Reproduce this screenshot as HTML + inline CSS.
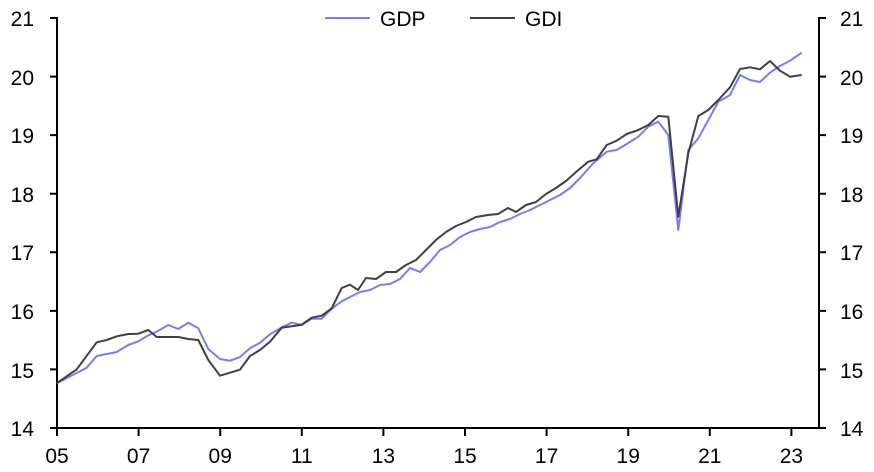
<!DOCTYPE html>
<html><head><meta charset="utf-8"><style>
body{margin:0;background:#fff}
svg{display:block;font-family:"Liberation Sans",sans-serif}
</style></head><body>
<svg width="874" height="472" viewBox="0 0 874 472">
<g stroke="#000" stroke-width="2" fill="none">
<line x1="57" y1="17" x2="57" y2="429"/>
<line x1="819" y1="17" x2="819" y2="429"/>
<line x1="56" y1="428" x2="820" y2="428"/>
<path d="M50 18H57M50 76.6H57M50 135.1H57M50 193.7H57M50 252.3H57M50 310.9H57M50 369.4H57M50 428H57"/>
<path d="M819 18H826M819 76.6H826M819 135.1H826M819 193.7H826M819 252.3H826M819 310.9H826M819 369.4H826M819 428H826"/>
<path d="M57 428V436M138.6 428V436M220.2 428V436M301.8 428V436M383.4 428V436M465 428V436M546.6 428V436M628.2 428V436M709.8 428V436M791.4 428V436"/>
</g>
<g font-size="21" fill="#000">
<g text-anchor="end">
<text x="34" y="26">21</text><text x="34" y="85">20</text><text x="34" y="143">19</text><text x="34" y="202">18</text><text x="34" y="260">17</text><text x="34" y="319">16</text><text x="34" y="378">15</text><text x="34" y="436">14</text>
</g>
<g text-anchor="start">
<text x="840" y="26">21</text><text x="840" y="85">20</text><text x="840" y="143">19</text><text x="840" y="202">18</text><text x="840" y="260">17</text><text x="840" y="319">16</text><text x="840" y="378">15</text><text x="840" y="436">14</text>
</g>
<g text-anchor="middle">
<text x="57" y="463">05</text><text x="138.6" y="463">07</text><text x="220.2" y="463">09</text><text x="301.8" y="463">11</text><text x="383.4" y="463">13</text><text x="465" y="463">15</text><text x="546.6" y="463">17</text><text x="628.2" y="463">19</text><text x="709.8" y="463">21</text><text x="791.4" y="463">23</text>
</g>
<text x="380" y="26">GDP</text><text x="525" y="26">GDI</text>
</g>
<line x1="325" y1="18" x2="370" y2="18" stroke="#7b7bf7" stroke-width="2"/>
<line x1="470" y1="18" x2="515" y2="18" stroke="#404040" stroke-width="2"/>
<polyline fill="none" stroke="#7b7bf7" stroke-width="2" stroke-linejoin="round" points="56.7,383.3 86.7,367.7 96.7,356 106.7,354 116.7,352 128.3,345 138.3,341.3 148.3,335.3 156.7,331.7 168.3,325 178.3,329 188.3,322.7 198.3,328.3 208.3,349 220,359 230,360.7 240,357 250,348.3 260,342.7 270,334.3 281.7,327.3 291.7,322.7 301.7,325 311.7,318.7 321.7,318.7 331.7,308.7 341.7,301.3 350,297 360,292 370,290 380,285 390,284 400,279 410,268 420,272 430,262 440,250 450,245 460,237 470,232 480,229 490,227 500,222 510,219 520,214 530,210 540,205 550,200 560,195 570,188 580,178 593.3,163.3 606.7,151.7 616.7,150 626.7,144 638.3,136.7 648.3,126.7 658.3,121.7 668.3,135 678.3,230 688.3,150 698.3,138.3 708.3,120 718.3,101.7 730,95 740,75 750,80 760,82 770,72.7 780,66 790,60.7 801.7,52.7"/>
<polyline fill="none" stroke="#404040" stroke-width="2" stroke-linejoin="round" points="56.7,383.3 76.7,369.3 96.7,342.3 106.7,340 116.7,336.3 128.3,334 138.3,333.7 148.3,330 156.7,337 178.3,337 188.3,339 198.3,340 208.3,360 220,375.7 240,369.7 250,356 260,350 270,341.7 281.7,327.7 301.7,324.7 311.7,317.7 321.7,315.7 331.7,308.3 341.7,288 350,284.7 358,290 366,278 376,279 386,272 396,272 406,265 416,260 426,250 436,240 446,232 456,226 466,222 476,217 488,215 498,214 508,208 516,212 526,205 536,202 546,194 556,188 566,181 576,172 588.3,161.7 596.7,159.3 606.7,145 616.7,140.7 626.7,134 638.3,130 648.3,125 658.3,116 668.3,116.7 678.3,216.7 688.3,153.3 698.3,116 708.3,110 718.3,100 730,87.3 740,69 750,67.3 760,69.3 770,61 780,70.7 790,76.7 801.7,75"/>
</svg>
</body></html>
